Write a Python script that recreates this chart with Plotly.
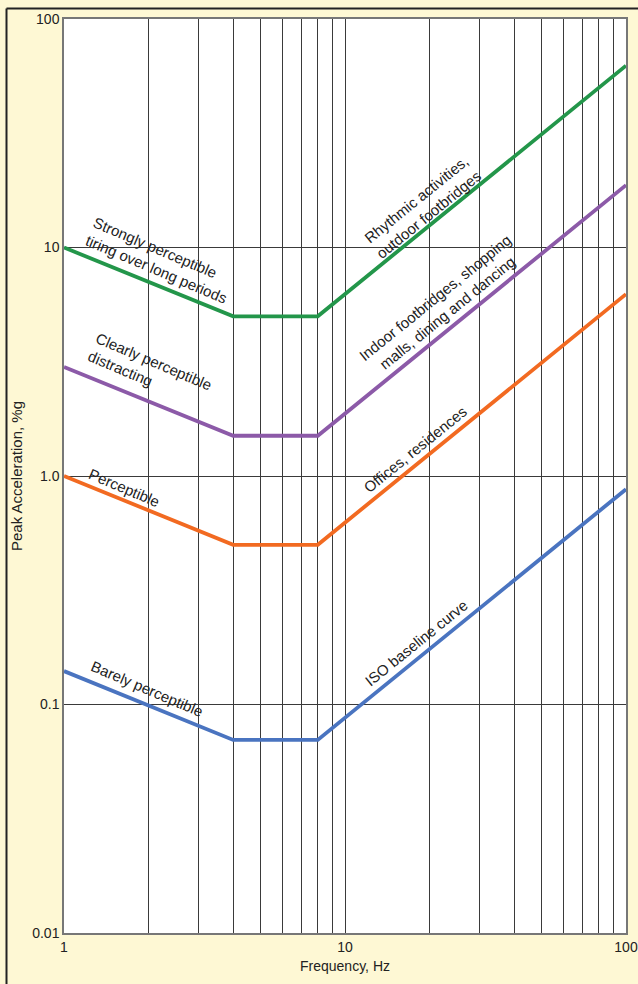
import math
import plotly.graph_objects as go

# Data
freq = [1, 4, 8, 100]
iso_baseline = [0.14, 0.07, 0.07, 0.875]
offices = [1.0, 0.5, 0.5, 6.25]
indoor = [3.0, 1.5, 1.5, 18.75]
rhythmic = [10.0, 5.0, 5.0, 62.5]

series = [
    ("Rhythmic activities", rhythmic, "#23964a"),
    ("Indoor footbridges", indoor, "#8c5aa8"),
    ("Offices", offices, "#f26a21"),
    ("ISO baseline", iso_baseline, "#4a74c0"),
]

x_tickvals = [1, 2, 3, 4, 5, 6, 7, 8, 9, 10, 20, 30, 40, 50, 60, 70, 80, 90, 100]
x_ticktext = ["1", "", "", "", "", "", "", "", "", "10", "", "", "", "", "", "", "", "", "100"]
y_tickvals = [0.01, 0.1, 1, 10, 100]
y_ticktext = ["0.01", "0.1", "1.0", "10", "100"]

# annotations: (text, freq, accel, angle, align)
labels = [
    ("Strongly perceptible<br>tiring over long periods", 2.2, 8.73, 23, "left"),
    ("Clearly perceptible<br>distracting", 2.02, 2.91, 23, "left"),
    ("Perceptible", 1.635, 0.895, 23, "left"),
    ("Barely perceptible", 1.97, 0.117, 23, "left"),
    ("Rhythmic activities,<br>outdoor footbridges", 18.8, 15.0, -39, "center"),
    ("Indoor footbridges, shopping<br>malls, dining and dancing", 21.96, 5.6, -39, "center"),
    ("Offices, residences", 17.75, 1.30, -39, "center"),
    ("ISO baseline curve", 18.0, 0.186, -39, "center"),
]

FONT = "Liberation Sans, Arial, sans-serif"

fig = go.Figure()
for name, vals, color in series:
    fig.add_trace(go.Scatter(x=freq, y=vals, mode="lines", name=name,
                             line=dict(color=color, width=3.8), showlegend=False,
                             hoverinfo="skip"))

for text, x, y, ang, al in labels:
    fig.add_annotation(x=math.log10(x), y=math.log10(y), xref="x", yref="y", text=text,
                       showarrow=False, textangle=ang, align=al,
                       font=dict(family=FONT, size=15, color="#222"),
                       xanchor="center", yanchor="middle")

L, R, T, B = 64, 12, 19, 51
W, H = 638, 984
pw, ph = W - L - R, H - T - B
bx = (6.5 - L) / pw
by = 1 + (T - 8.5) / ph
fig.add_shape(type="line", xref="paper", yref="paper", x0=bx, x1=bx, y0=-0.2, y1=by,
              line=dict(color="#222", width=2))
fig.add_shape(type="line", xref="paper", yref="paper", x0=bx, x1=1.2, y0=by, y1=by,
              line=dict(color="#222", width=2))

fig.update_layout(
    width=W, height=H,
    margin=dict(l=L, r=R, t=T, b=B),
    paper_bgcolor="#fef8d4",
    plot_bgcolor="white",
    font=dict(family=FONT, size=14, color="#222"),
    xaxis=dict(type="log", range=[0, 2], tickvals=x_tickvals, ticktext=x_ticktext,
               showgrid=True, gridcolor="#3a3a3a", gridwidth=1, ticks="",
               showline=True, linecolor="#777", linewidth=1.5, mirror=True,
               zeroline=False, automargin=False,
               title=dict(text="Frequency, Hz", standoff=8, font=dict(size=14))),
    yaxis=dict(type="log", range=[-2, 2], tickvals=y_tickvals, ticktext=y_ticktext,
               showgrid=True, gridcolor="#3a3a3a", gridwidth=1, ticks="",
               showline=True, linecolor="#777", linewidth=1.5, mirror=True,
               zeroline=False, automargin=False,
               title=dict(text="Peak Acceleration, %g", standoff=6, font=dict(size=15))),
)

fig.write_html("out.html")
